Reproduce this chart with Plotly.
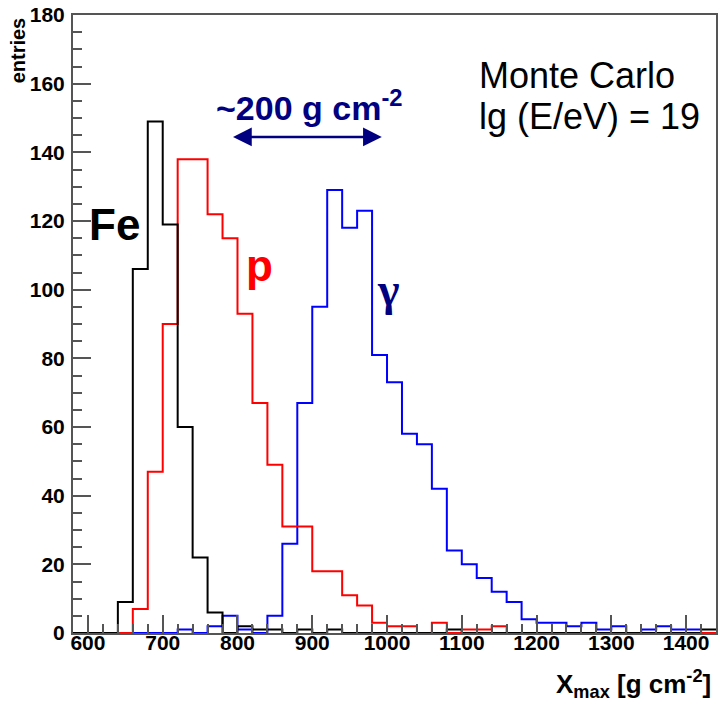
import numpy as np
import plotly.graph_objects as go

# Histogram binning (g cm^-2)
bin_start = 580
bin_width = 20

# Counts per bin, bins from 580 to 1440
fe_counts = [0, 0, 0, 9, 106, 149, 119, 60, 22, 6, 0, 2, 1, 1, 0, 1, 0, 1, 0, 0,
             0, 0, 0, 0, 0, 1, 0, 0, 0, 0, 0, 0, 0, 0, 0, 0, 0, 0, 0, 0,
             0, 0, 1]
p_counts = [0, 0, 0, 0, 7, 47, 90, 138, 138, 122, 115, 93, 67, 49, 31, 31, 18, 18, 11, 8,
            3, 2, 2, 0, 3, 0, 1, 1, 2, 0, 0, 0, 0, 0, 0, 0, 0, 0, 0, 0,
            0, 0, 0]
gamma_counts = [0, 0, 0, 0, 0, 0, 0, 1, 0, 2, 5, 1, 0, 5, 26, 67, 95, 129, 118, 123,
                81, 73, 58, 55, 42, 24, 20, 16, 12, 9, 4, 3, 3, 2, 3, 1, 2, 0, 1, 2,
                1, 1, 0]

x_ticks = [600, 700, 800, 900, 1000, 1100, 1200, 1300, 1400]
y_ticks = [0, 20, 40, 60, 80, 100, 120, 140, 160, 180]

FONT = "Liberation Sans"
NAVY = "#000080"


def step_trace(counts, color):
    edges = bin_start + bin_width * np.arange(len(counts) + 1)
    ys = list(counts) + [counts[-1]]
    return go.Scatter(x=edges, y=ys, mode="lines", line=dict(color=color, width=2, shape="hv"),
                      hoverinfo="skip", showlegend=False)


fig = go.Figure()
fig.add_trace(step_trace(gamma_counts, "#0000ff"))
fig.add_trace(step_trace(p_counts, "#ff0000"))
fig.add_trace(step_trace(fe_counts, "#000000"))

axis_common = dict(showline=True, mirror=True, linecolor="#555555", linewidth=2,
                   showgrid=False, zeroline=False, ticks="inside", tickcolor="#555555",
                   tickwidth=1.5, ticklen=18,
                   tickfont=dict(family=FONT, size=21, color="black", weight="bold"))

fig.update_xaxes(range=[bin_start, bin_start + bin_width * len(fe_counts)],
                 tickvals=x_ticks, ticktext=[str(v) for v in x_ticks],
                 minor=dict(dtick=bin_width, tick0=bin_start, ticks="inside", ticklen=9,
                            tickcolor="#555555", tickwidth=1.5),
                 ticklabelstandoff=-10, **axis_common)
fig.update_yaxes(range=[0, 180], tickvals=y_ticks, ticktext=[str(v) for v in y_ticks],
                 minor=dict(dtick=5, tick0=0, ticks="inside", ticklen=9,
                            tickcolor="#555555", tickwidth=1.5),
                 ticklabelstandoff=2, **axis_common)

annotations = [
    dict(x=0.995, y=-0.05, xref="paper", yref="paper", xanchor="right", yanchor="top",
         text="X<sub>max</sub> [g cm<sup>-2</sup>]", showarrow=False,
         font=dict(family=FONT, size=26, color="black", weight="bold")),
    dict(x=-0.085, y=1.0, xref="paper", yref="paper", xanchor="center", yanchor="top",
         text="entries", textangle=-90, showarrow=False,
         font=dict(family=FONT, size=20, color="black", weight="bold")),
    dict(x=635, y=119, xref="x", yref="y", text="Fe", showarrow=False,
         font=dict(family=FONT, size=44, color="black", weight="bold")),
    dict(x=829, y=107, xref="x", yref="y", text="p", showarrow=False,
         font=dict(family=FONT, size=44, color="#ff0000", weight="bold")),
    dict(x=1002, y=100, xref="x", yref="y", text="γ", showarrow=False,
         font=dict(family="Liberation Serif", size=46, color=NAVY, weight="bold")),
    dict(x=896, y=153.5, xref="x", yref="y", text="~200 g cm<sup>-2</sup>", showarrow=False,
         font=dict(family=FONT, size=34, color=NAVY, weight="bold")),
    dict(x=993, y=144.5, ax=792, ay=144.5, xref="x", yref="y", axref="x", ayref="y",
         text="", showarrow=True, arrowhead=2, arrowside="end+start", arrowsize=1.5,
         arrowwidth=2.5, arrowcolor=NAVY),
    dict(x=1120, y=162.5, xref="x", yref="y", xanchor="left", text="Monte Carlo", showarrow=False,
         font=dict(family=FONT, size=36, color="black")),
    dict(x=1120, y=150.3, xref="x", yref="y", xanchor="left", text="lg (E/eV) = 19",
         showarrow=False, font=dict(family=FONT, size=36, color="black")),
]

fig.update_layout(width=721, height=702, margin=dict(l=73, r=3, t=14, b=69),
                  paper_bgcolor="white", plot_bgcolor="white", annotations=annotations,
                  showlegend=False)

fig.write_html("out.html")
